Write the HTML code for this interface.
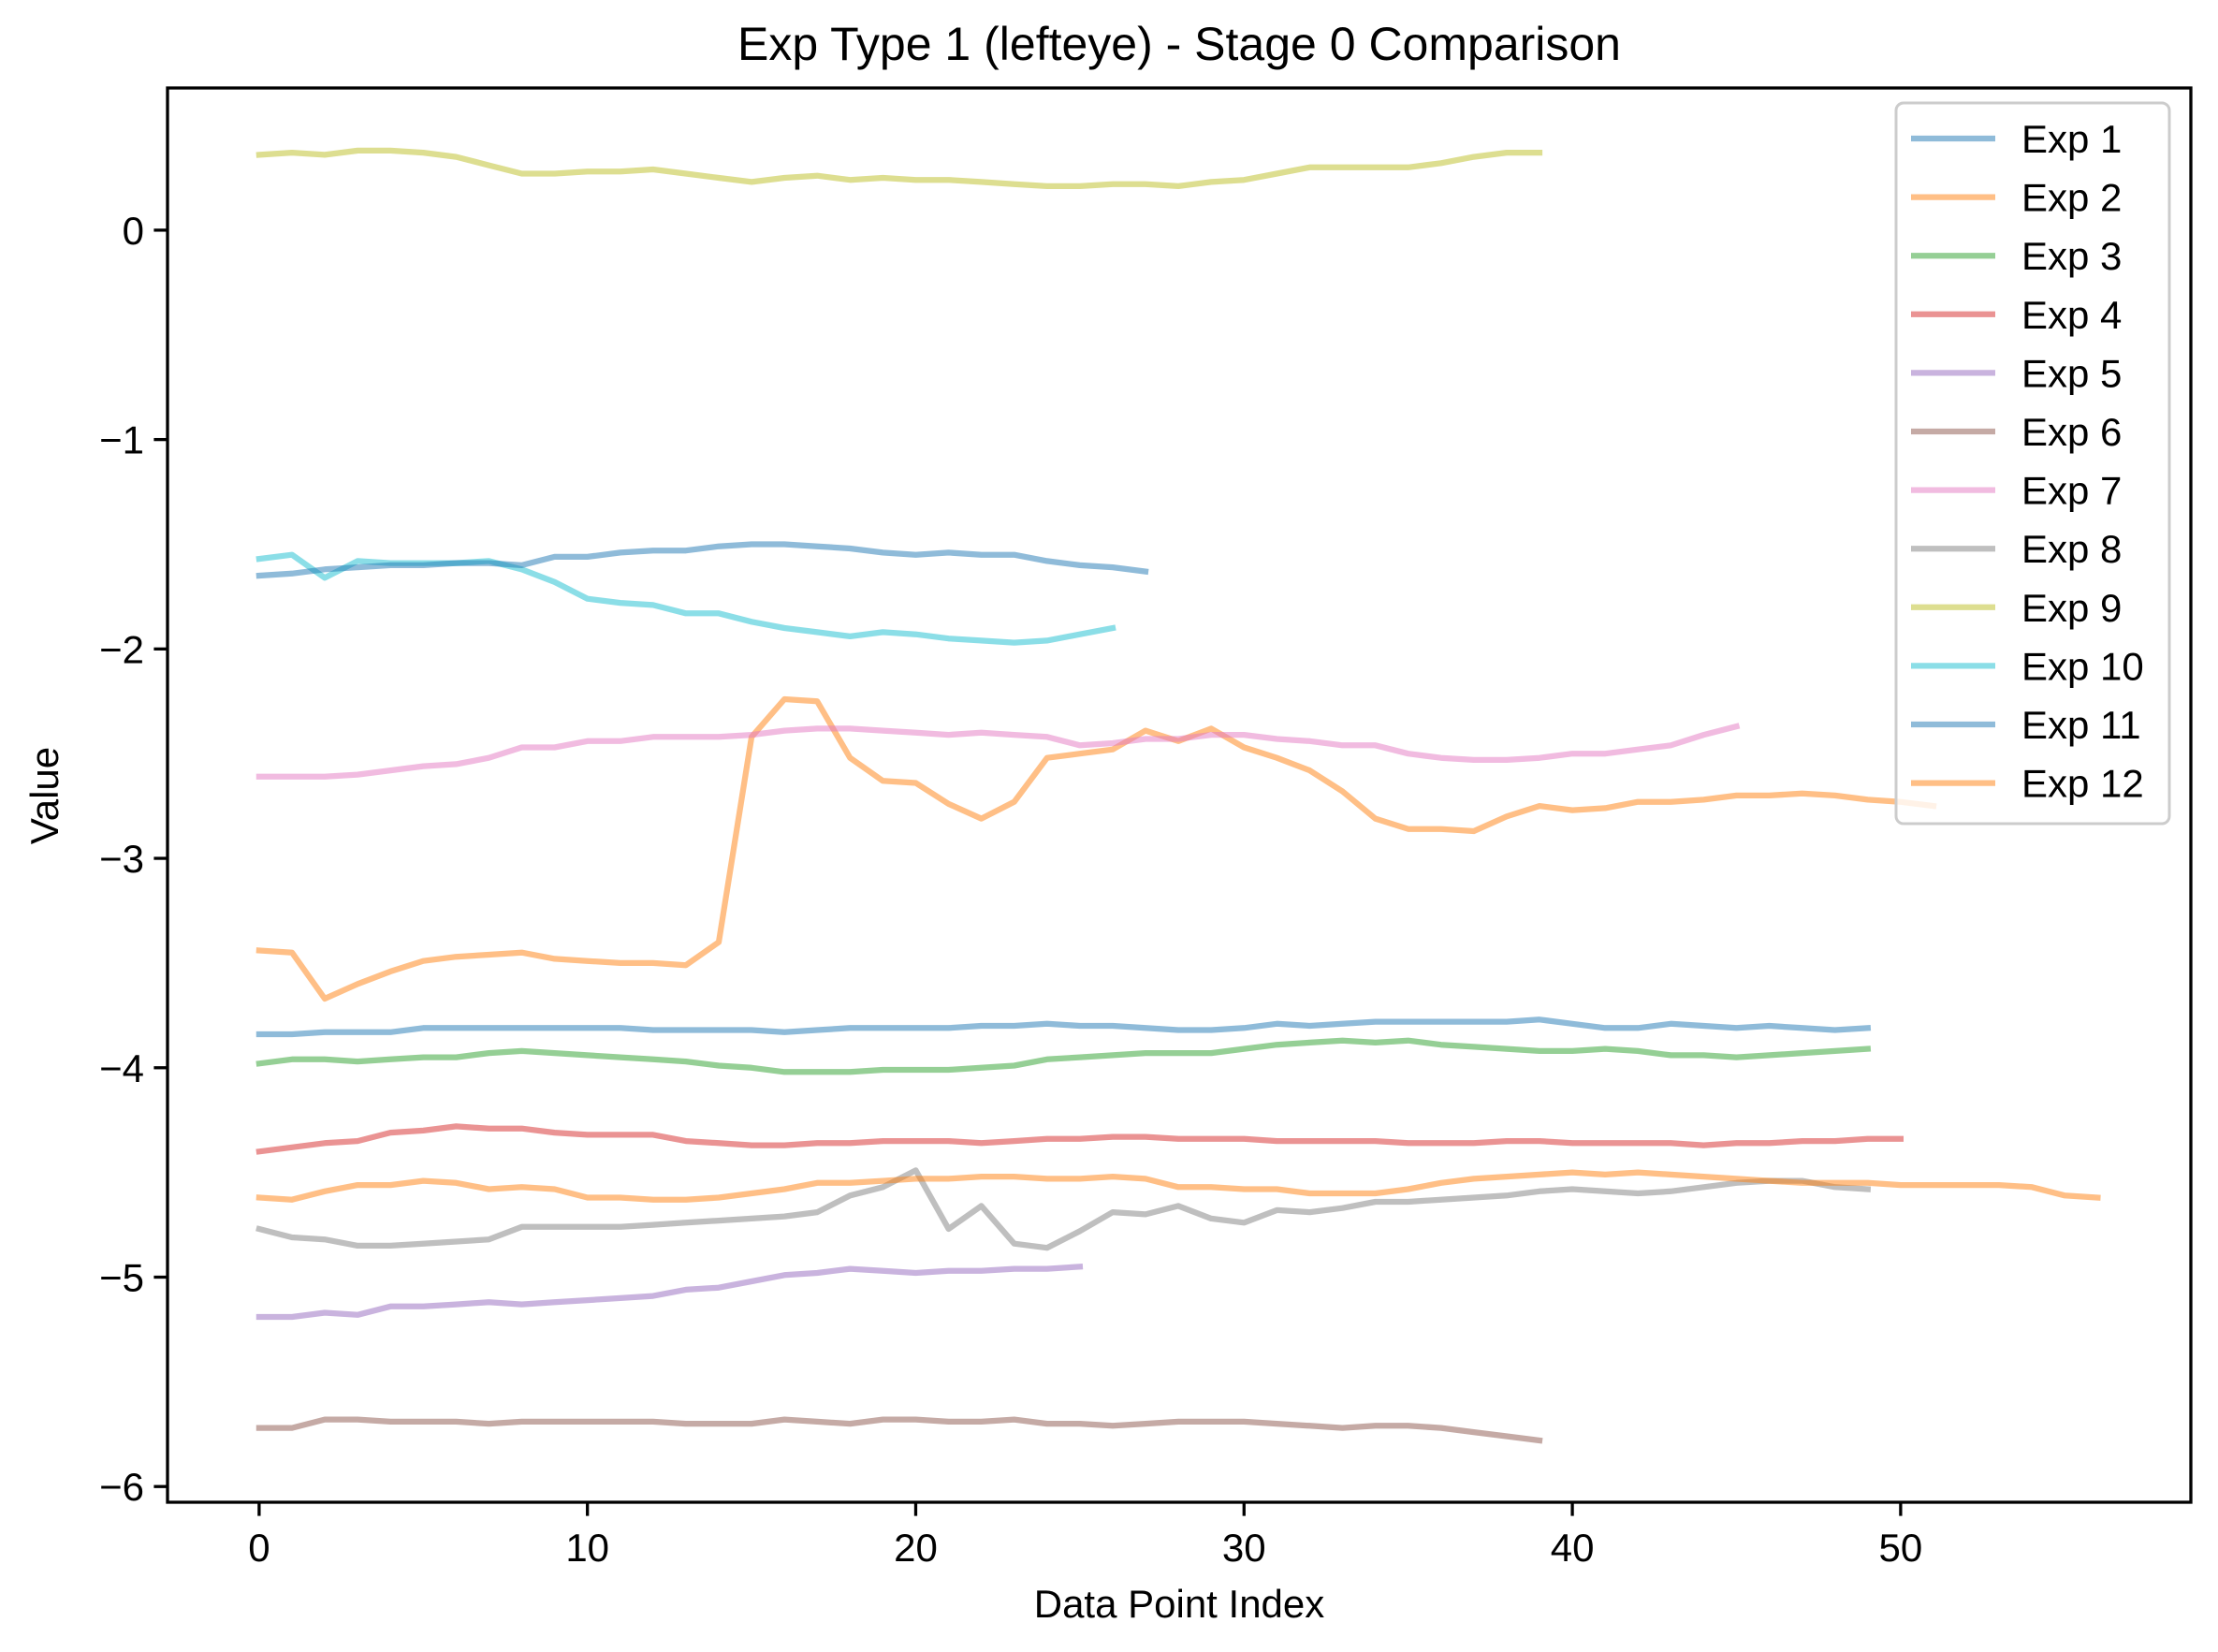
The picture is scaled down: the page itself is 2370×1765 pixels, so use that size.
<!DOCTYPE html>
<html><head><meta charset="utf-8"><style>
html,body{margin:0;padding:0;background:#fff}
svg{display:block;font-family:"Liberation Sans","DejaVu Sans",sans-serif}
</style></head><body>
<svg id="chart" width="2370" height="1765" viewBox="0 0 2370 1765">
<rect width="2370" height="1765" fill="#fff"/>
<text x="1260" y="64" font-size="50" text-anchor="middle">Exp Type 1 (lefteye) - Stage 0 Comparison</text>
<g id="plot"></g>
<g id="axes"></g>
<g id="legend"></g>
<text x="1260" y="1728" font-size="42" text-anchor="middle">Data Point Index</text>
<text x="0" y="0" font-size="42" text-anchor="middle" transform="translate(62,850) rotate(-90)">Value</text>
</svg>
<script>
const seriesNames=["Exp 1","Exp 2","Exp 3","Exp 4","Exp 5","Exp 6","Exp 7","Exp 8","Exp 9","Exp 10","Exp 11","Exp 12"];
const seriesColors=["#1f77b4","#ff7f0e","#2ca02c","#d62728","#9467bd","#8c564b","#e377c2","#7f7f7f","#bcbd22","#17becf","#1f77b4","#ff7f0e"];
const exp1=[-3.84,-3.84,-3.83,-3.83,-3.83,-3.81,-3.81,-3.81,-3.81,-3.81,-3.81,-3.81,-3.82,-3.82,-3.82,-3.82,-3.83,-3.82,-3.81,-3.81,-3.81,-3.81,-3.80,-3.80,-3.79,-3.80,-3.80,-3.81,-3.82,-3.82,-3.81,-3.79,-3.80,-3.79,-3.78,-3.78,-3.78,-3.78,-3.78,-3.77,-3.79,-3.81,-3.81,-3.79,-3.80,-3.81,-3.80,-3.81,-3.82,-3.81];
const exp2=[-3.44,-3.45,-3.67,-3.60,-3.54,-3.49,-3.47,-3.46,-3.45,-3.48,-3.49,-3.50,-3.50,-3.51,-3.40,-2.42,-2.24,-2.25,-2.52,-2.63,-2.64,-2.74,-2.81,-2.73,-2.52,-2.50,-2.48,-2.39,-2.44,-2.38,-2.47,-2.52,-2.58,-2.68,-2.81,-2.86,-2.86,-2.87,-2.80,-2.75,-2.77,-2.76,-2.73,-2.73,-2.72,-2.70,-2.70,-2.69,-2.70,-2.72,-2.73,-2.75];
const exp3=[-3.98,-3.96,-3.96,-3.97,-3.96,-3.95,-3.95,-3.93,-3.92,-3.93,-3.94,-3.95,-3.96,-3.97,-3.99,-4.00,-4.02,-4.02,-4.02,-4.01,-4.01,-4.01,-4.00,-3.99,-3.96,-3.95,-3.94,-3.93,-3.93,-3.93,-3.91,-3.89,-3.88,-3.87,-3.88,-3.87,-3.89,-3.90,-3.91,-3.92,-3.92,-3.91,-3.92,-3.94,-3.94,-3.95,-3.94,-3.93,-3.92,-3.91];
const exp4=[-4.40,-4.38,-4.36,-4.35,-4.31,-4.30,-4.28,-4.29,-4.29,-4.31,-4.32,-4.32,-4.32,-4.35,-4.36,-4.37,-4.37,-4.36,-4.36,-4.35,-4.35,-4.35,-4.36,-4.35,-4.34,-4.34,-4.33,-4.33,-4.34,-4.34,-4.34,-4.35,-4.35,-4.35,-4.35,-4.36,-4.36,-4.36,-4.35,-4.35,-4.36,-4.36,-4.36,-4.36,-4.37,-4.36,-4.36,-4.35,-4.35,-4.34,-4.34];
const exp5=[-5.19,-5.19,-5.17,-5.18,-5.14,-5.14,-5.13,-5.12,-5.13,-5.12,-5.11,-5.10,-5.09,-5.06,-5.05,-5.02,-4.99,-4.98,-4.96,-4.97,-4.98,-4.97,-4.97,-4.96,-4.96,-4.95];
const exp6=[-5.72,-5.72,-5.68,-5.68,-5.69,-5.69,-5.69,-5.70,-5.69,-5.69,-5.69,-5.69,-5.69,-5.70,-5.70,-5.70,-5.68,-5.69,-5.70,-5.68,-5.68,-5.69,-5.69,-5.68,-5.70,-5.70,-5.71,-5.70,-5.69,-5.69,-5.69,-5.70,-5.71,-5.72,-5.71,-5.71,-5.72,-5.74,-5.76,-5.78];
const exp7=[-2.61,-2.61,-2.61,-2.60,-2.58,-2.56,-2.55,-2.52,-2.47,-2.47,-2.44,-2.44,-2.42,-2.42,-2.42,-2.41,-2.39,-2.38,-2.38,-2.39,-2.40,-2.41,-2.40,-2.41,-2.42,-2.46,-2.45,-2.43,-2.43,-2.41,-2.41,-2.43,-2.44,-2.46,-2.46,-2.50,-2.52,-2.53,-2.53,-2.52,-2.50,-2.50,-2.48,-2.46,-2.41,-2.37];
const exp8=[-4.77,-4.81,-4.82,-4.85,-4.85,-4.84,-4.83,-4.82,-4.76,-4.76,-4.76,-4.76,-4.75,-4.74,-4.73,-4.72,-4.71,-4.69,-4.61,-4.57,-4.49,-4.77,-4.66,-4.84,-4.86,-4.78,-4.69,-4.70,-4.66,-4.72,-4.74,-4.68,-4.69,-4.67,-4.64,-4.64,-4.63,-4.62,-4.61,-4.59,-4.58,-4.59,-4.60,-4.59,-4.57,-4.55,-4.54,-4.54,-4.57,-4.58];
const exp9=[0.36,0.37,0.36,0.38,0.38,0.37,0.35,0.31,0.27,0.27,0.28,0.28,0.29,0.27,0.25,0.23,0.25,0.26,0.24,0.25,0.24,0.24,0.23,0.22,0.21,0.21,0.22,0.22,0.21,0.23,0.24,0.27,0.30,0.30,0.30,0.30,0.32,0.35,0.37,0.37];
const exp10=[-1.57,-1.55,-1.66,-1.58,-1.59,-1.59,-1.59,-1.58,-1.62,-1.68,-1.76,-1.78,-1.79,-1.83,-1.83,-1.87,-1.90,-1.92,-1.94,-1.92,-1.93,-1.95,-1.96,-1.97,-1.96,-1.93,-1.90];
const exp11=[-1.65,-1.64,-1.62,-1.61,-1.60,-1.60,-1.59,-1.59,-1.60,-1.56,-1.56,-1.54,-1.53,-1.53,-1.51,-1.50,-1.50,-1.51,-1.52,-1.54,-1.55,-1.54,-1.55,-1.55,-1.58,-1.60,-1.61,-1.63];
const exp12=[-4.62,-4.63,-4.59,-4.56,-4.56,-4.54,-4.55,-4.58,-4.57,-4.58,-4.62,-4.62,-4.63,-4.63,-4.62,-4.60,-4.58,-4.55,-4.55,-4.54,-4.53,-4.53,-4.52,-4.52,-4.53,-4.53,-4.52,-4.53,-4.57,-4.57,-4.58,-4.58,-4.60,-4.60,-4.60,-4.58,-4.55,-4.53,-4.52,-4.51,-4.50,-4.51,-4.50,-4.51,-4.52,-4.53,-4.54,-4.55,-4.55,-4.55,-4.56,-4.56,-4.56,-4.56,-4.57,-4.61,-4.62];
const xTicks=[0,10,20,30,40,50];
const yTicks=[0,-1,-2,-3,-4,-5,-6];
const yTickLabels=["0","\u22121","\u22122","\u22123","\u22124","\u22125","\u22126"];

const allSeries=[exp1,exp2,exp3,exp4,exp5,exp6,exp7,exp8,exp9,exp10,exp11,exp12];
const NS="http://www.w3.org/2000/svg";
const L=179,R=2341,T=94,B=1605;
const xMin=-2.79,xMax=58.84,yMin=-6.075,yMax=0.679;
function xs(i){return L+(i-xMin)/(xMax-xMin)*(R-L);}
function ys(v){return B-(v-yMin)/(yMax-yMin)*(B-T);}
function mk(tag,attrs,parent){const e=document.createElementNS(NS,tag);for(const k in attrs)e.setAttribute(k,attrs[k]);parent.appendChild(e);return e;}
const plot=document.getElementById('plot'),axes=document.getElementById('axes'),leg=document.getElementById('legend');
allSeries.forEach((s,k)=>{
  const p=mk('polyline',{points:s.map((v,i)=>xs(i).toFixed(1)+','+ys(v).toFixed(1)).join(' '),fill:'none',stroke:seriesColors[k],'stroke-width':6.25,'stroke-opacity':0.5,'stroke-linejoin':'round','stroke-linecap':'square'},plot);
  
  
});
const frame=mk('rect',{x:L,y:T,width:R-L,height:B-T,fill:'none',stroke:'#000','stroke-width':3.3},axes);


xTicks.forEach(t=>{
  const x=xs(t);
  const tk=mk('line',{x1:x,x2:x,y1:B,y2:B+14.6,stroke:'#000','stroke-width':3.3},axes);
  
  
  const tx=mk('text',{x:x,y:B+63,'font-size':42,'text-anchor':'middle'},axes);
  tx.textContent=String(t);
  
  
});
yTicks.forEach((t,j)=>{
  const y=ys(t);
  const tk=mk('line',{x1:L-14.6,x2:L,y1:y,y2:y,stroke:'#000','stroke-width':3.3},axes);
  
  
  const tx=mk('text',{x:L-25,y:y+15,'font-size':42,'text-anchor':'end'},axes);
  tx.textContent=yTickLabels[j];
  
  
});
const box=mk('rect',{x:2026,y:110,width:292,height:770,rx:8,fill:'#fff','fill-opacity':0.8,stroke:'#cccccc','stroke-width':3},leg);


seriesNames.forEach((n,k)=>{
  const y=148+k*62.6;
  const ln=mk('line',{x1:2042,x2:2132,y1:y,y2:y,stroke:seriesColors[k],'stroke-width':6.25,'stroke-opacity':0.5},leg);
  
  
  const tx=mk('text',{x:2160,y:y+15,'font-size':42},leg);
  tx.textContent=n;
  
  
});
</script>
</body></html>
